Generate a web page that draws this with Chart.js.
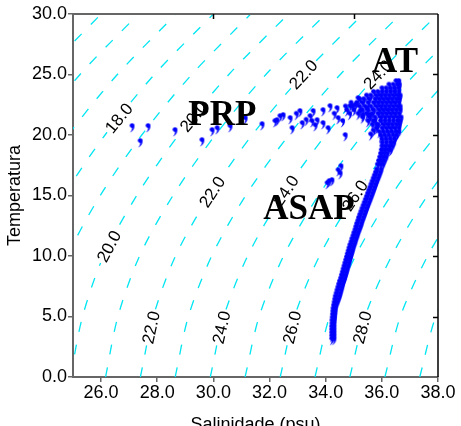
<!DOCTYPE html>
<html lang="pt">
<head>
<meta charset="UTF-8">
<title>Diagrama T-S</title>
<script src="https://cdn.jsdelivr.net/npm/chart.js"></script>
<style>
  html, body { margin: 0; padding: 0; background: #fff; }
</style>
</head>
<body>
<canvas id="tsChart" width="461" height="426"></canvas>
<script>
// eixos
const salTicks = [26, 28, 30, 32, 34, 36, 38];
const tempTicks = [0, 5, 10, 15, 20, 25, 30];
const topTickSal = [30, 35];
const rightTickTemp = [5, 10, 15, 20, 25];

// isopicnais sigma-t, salinidade lida em T = 0, 5, 10 ... 30
const sigmaLevels = [15, 16, 17, 18, 19, 20, 21, 22, 23, 24, 25, 26, 27, 28, 29, 30];
const sigmaTemps = [0, 5, 10, 15, 20, 25, 30];
const sigmaSal = [
  [18.69, 19.05, 19.68, 20.79, 22.21, 23.93, 26.00],
  [19.94, 20.31, 20.96, 22.09, 23.52, 25.25, 27.33],
  [21.18, 21.57, 22.24, 23.38, 24.83, 26.58, 28.67],
  [22.43, 22.82, 23.53, 24.68, 26.14, 27.90, 30.00],
  [23.67, 24.08, 24.81, 25.97, 27.45, 29.23, 31.33],
  [24.91, 25.34, 26.09, 27.27, 28.76, 30.55, 32.67],
  [26.16, 26.60, 27.37, 28.56, 30.07, 31.87, 34.00],
  [27.40, 27.86, 28.65, 29.86, 31.38, 33.20, 35.33],
  [28.64, 29.11, 29.94, 31.15, 32.69, 34.52, 36.67],
  [29.89, 30.37, 31.22, 32.45, 34.00, 35.85, 38.00],
  [31.13, 31.63, 32.50, 33.74, 35.31, 37.17, 39.33],
  [32.38, 32.89, 33.78, 35.04, 36.63, 38.50],
  [33.62, 34.14, 35.06, 36.33, 37.94, 39.82],
  [34.86, 35.40, 36.35, 37.63, 39.25],
  [36.11, 36.66, 37.63, 38.92],
  [37.35, 37.92, 38.91]
];
// rotulos das isopicnais
const labelLevel = [18, 20, 20, 22, 22, 22, 24, 24, 24, 26, 26, 28];
const labelTemp = [21.4, 21.5, 10.8, 25.0, 15.3, 4.1, 25.0, 15.4, 4.1, 15.0, 4.1, 4.1];

// massas d'agua
const tagNames = ['PRP', 'AT', 'ASAP'];
const tagSal = [30.32, 36.47, 33.40];
const tagTemp = [20.83, 25.21, 13.06];

// tronco principal (duas colunas por linha)
const trunkTemp = [3.00, 3.25, 3.50, 3.75, 4.00, 4.25, 4.50, 4.75, 5.00, 5.25, 5.50, 5.75, 6.00, 6.25, 6.50,
  6.75, 7.00, 7.25, 7.50, 7.75, 8.00, 8.25, 8.50, 8.75, 9.00, 9.25, 9.50, 9.75, 10.00, 10.25,
  10.50, 10.75, 11.00, 11.25, 11.50, 11.75, 12.00, 12.25, 12.50, 12.75, 13.00, 13.25, 13.50, 13.75, 14.00,
  14.25, 14.50, 14.75, 15.00, 15.25, 15.50, 15.75, 16.00, 16.25, 16.50, 16.75, 17.00];
const trunkSalA = [34.21, 34.21, 34.21, 34.21, 34.21, 34.22, 34.22, 34.23, 34.24, 34.25, 34.26, 34.28, 34.30, 34.32, 34.34,
  34.37, 34.40, 34.43, 34.46, 34.49, 34.53, 34.56, 34.59, 34.62, 34.65, 34.68, 34.71, 34.74, 34.77, 34.80,
  34.83, 34.86, 34.90, 34.93, 34.97, 35.00, 35.04, 35.07, 35.10, 35.14, 35.17, 35.21, 35.25, 35.29, 35.33,
  35.37, 35.41, 35.45, 35.49, 35.53, 35.57, 35.61, 35.65, 35.69, 35.73, 35.77, 35.81];
const trunkSalB = [34.29, 34.29, 34.29, 34.29, 34.29, 34.29, 34.30, 34.31, 34.32, 34.33, 34.34, 34.36, 34.40, 34.44, 34.48,
  34.51, 34.54, 34.57, 34.60, 34.63, 34.67, 34.70, 34.73, 34.76, 34.79, 34.82, 34.85, 34.88, 34.91, 34.94,
  34.97, 35.00, 35.04, 35.07, 35.11, 35.14, 35.18, 35.22, 35.26, 35.29, 35.33, 35.37, 35.41, 35.45, 35.49,
  35.53, 35.57, 35.61, 35.65, 35.69, 35.73, 35.77, 35.81, 35.85, 35.89, 35.93, 35.97];

// nucleo AT (linhas de temperatura)
const atTemp = [24.3, 24.0, 23.7, 23.4, 23.1, 22.8, 22.5, 22.2, 21.9, 21.6, 21.3, 21.0, 20.7, 20.4,
  20.1, 19.8, 19.5, 19.2, 18.9, 18.6, 18.3, 18.0, 17.7, 17.4];
const atSal = [
  [36.5, 36.6],
  [36.25, 36.4, 36.55, 36.62],
  [36.0, 36.15, 36.3, 36.45, 36.6],
  [35.7, 35.85, 36.0, 36.15, 36.3, 36.45, 36.6],
  [35.45, 35.6, 35.8, 35.95, 36.1, 36.25, 36.4, 36.55, 36.65],
  [35.2, 35.35, 35.55, 35.75, 35.9, 36.05, 36.2, 36.35, 36.5, 36.62],
  [34.9, 35.1, 35.3, 35.5, 35.7, 35.85, 36.0, 36.15, 36.3, 36.45, 36.6],
  [34.7, 34.95, 35.2, 35.4, 35.6, 35.8, 35.95, 36.1, 36.25, 36.4, 36.55, 36.65],
  [34.75, 35.0, 35.3, 35.5, 35.7, 35.9, 36.05, 36.2, 36.35, 36.5, 36.65],
  [34.85, 35.15, 35.45, 35.65, 35.85, 36.0, 36.15, 36.3, 36.45, 36.6],
  [35.3, 35.55, 35.75, 35.95, 36.1, 36.25, 36.4, 36.55, 36.68],
  [35.5, 35.75, 35.95, 36.1, 36.25, 36.4, 36.55, 36.65],
  [35.65, 35.85, 36.05, 36.2, 36.35, 36.5, 36.62],
  [35.8, 36.0, 36.15, 36.3, 36.45, 36.6],
  [35.9, 36.05, 36.2, 36.35, 36.5, 36.6],
  [35.95, 36.1, 36.25, 36.4, 36.52],
  [36.0, 36.15, 36.3, 36.45],
  [36.0, 36.15, 36.3, 36.42],
  [36.0, 36.12, 36.25, 36.36],
  [35.98, 36.1, 36.22, 36.3],
  [35.95, 36.07, 36.18],
  [35.92, 36.03, 36.14],
  [35.88, 35.98, 36.08],
  [35.84, 35.94, 36.03]
];

// PRP espalhado
const prpSal = [27.10, 27.67, 27.39, 28.63, 29.59, 29.95, 30.13, 30.59, 31.13, 31.73, 32.19, 32.26, 32.37, 32.48,
  32.73, 32.80, 32.95, 33.08, 33.16, 33.30, 33.44, 33.51, 33.55, 33.62, 33.69, 33.90, 33.90, 34.08, 34.15, 34.30,
  34.40, 34.44, 34.60, 34.69, 34.86, 35.04, 35.15, 35.22, 35.33, 35.47, 35.58, 35.60, 35.68, 35.70, 35.83];
const prpTemp = [20.58, 20.58, 19.34, 20.25, 19.42, 20.25, 20.41, 20.58, 21.24, 20.74, 20.99, 21.07, 21.40, 21.49,
  21.24, 20.41, 21.60, 21.82, 20.83, 21.10, 21.40, 20.99, 21.82, 20.66, 21.07, 21.90, 20.83, 20.41, 22.23, 21.60,
  22.07, 21.24, 21.00, 19.83, 22.23, 22.31, 22.89, 21.82, 21.49, 22.07, 21.49, 19.90, 20.99, 20.20, 20.66];

// pequeno grupo junto de ASAP
const asapSal = [34.05, 34.12, 34.22, 34.44, 34.51, 34.54];
const asapTemp = [15.87, 16.03, 16.12, 16.94, 16.69, 17.27];

// marcador em forma de virgula
const comma = document.createElement('canvas');
comma.width = 9;
comma.height = 12;
const cc = comma.getContext('2d');
cc.fillStyle = '#0000ff';
cc.beginPath();
cc.arc(4.6, 3.6, 2.4, 0, Math.PI * 2);
cc.fill();
cc.beginPath();
cc.moveTo(6.9, 3.8);
cc.quadraticCurveTo(7.1, 8.2, 2.6, 10.8);
cc.quadraticCurveTo(4.9, 7.8, 4.6, 5.6);
cc.closePath();
cc.fill();

const obs = [];
trunkTemp.forEach((t, i) => {
  obs.push({x: trunkSalA[i], y: t});
  obs.push({x: trunkSalB[i], y: t});
});
atTemp.forEach((t, i) => atSal[i].forEach(s => obs.push({x: s, y: t})));
prpSal.forEach((s, i) => obs.push({x: s, y: prpTemp[i]}));
asapSal.forEach((s, i) => obs.push({x: s, y: asapTemp[i]}));

const datasets = [{
  data: obs,
  pointStyle: comma,
  pointRadius: 4,
  showLine: false
}];
sigmaSal.forEach(row => {
  datasets.push({
    data: row.map((s, j) => ({x: s, y: sigmaTemps[j]})),
    showLine: true,
    pointRadius: 0,
    borderColor: '#00e6f2',
    borderWidth: 1.3,
    borderDash: [10, 13],
    tension: 0.3
  });
});

function salOnSigma(i, t) {
  const row = sigmaSal[i];
  const j = Math.min(Math.floor(t / 5), row.length - 2);
  const f = (t - sigmaTemps[j]) / (sigmaTemps[j + 1] - sigmaTemps[j]);
  return row[j] + f * (row[j + 1] - row[j]);
}

const axisFont = {family: '"Liberation Sans", Arial, sans-serif', size: 18};

const sigmaLabels = {
  id: 'sigmaLabels',
  afterDatasetDraw(chart, args) {
    if (args.index !== 1) return;
    const {ctx, chartArea, scales: {x, y}} = chart;
    ctx.save();
    ctx.beginPath();
    ctx.rect(chartArea.left, chartArea.top, chartArea.width, chartArea.height);
    ctx.clip();
    ctx.font = '17px "Liberation Sans", Arial, sans-serif';
    ctx.textAlign = 'center';
    ctx.textBaseline = 'middle';
    labelLevel.forEach((lv, k) => {
      const i = sigmaLevels.indexOf(lv);
      const t = labelTemp[k];
      const px = x.getPixelForValue(salOnSigma(i, t));
      const py = y.getPixelForValue(t);
      const ang = Math.atan2(
        y.getPixelForValue(t + 1) - y.getPixelForValue(t - 1),
        x.getPixelForValue(salOnSigma(i, t + 1)) - x.getPixelForValue(salOnSigma(i, t - 1)));
      const txt = lv.toFixed(1);
      const w = ctx.measureText(txt).width;
      ctx.save();
      ctx.translate(px, py);
      ctx.rotate(ang);
      ctx.fillStyle = '#fff';
      ctx.fillRect(-w / 2 - 2, -8, w + 4, 16);
      ctx.fillStyle = '#000';
      ctx.fillText(txt, 0, 1);
      ctx.restore();
    });
    ctx.restore();
  }
};

const waterTags = {
  id: 'waterTags',
  afterDatasetsDraw(chart) {
    const {ctx, scales: {x, y}} = chart;
    ctx.save();
    ctx.font = 'bold 35px "Liberation Serif", "Times New Roman", serif';
    ctx.fillStyle = '#000';
    ctx.textAlign = 'center';
    ctx.textBaseline = 'alphabetic';
    tagNames.forEach((n, i) => ctx.fillText(n, x.getPixelForValue(tagSal[i]), y.getPixelForValue(tagTemp[i])));
    ctx.restore();
  }
};

// moldura superior/direita com marcas para dentro
const frame = {
  id: 'frame',
  afterDraw(chart) {
    const {ctx, chartArea: a, scales: {x, y}} = chart;
    ctx.save();
    ctx.strokeStyle = '#666';
    ctx.lineWidth = 2;
    ctx.beginPath();
    ctx.moveTo(a.left - 1, a.top);
    ctx.lineTo(a.right, a.top);
    ctx.stroke();
    ctx.strokeStyle = '#000';
    ctx.lineWidth = 1.5;
    ctx.beginPath();
    ctx.moveTo(a.right, a.top);
    ctx.lineTo(a.right, a.bottom);
    rightTickTemp.forEach(t => {
      const py = Math.round(y.getPixelForValue(t)) + 0.5;
      ctx.moveTo(a.right, py);
      ctx.lineTo(a.right - 5, py);
    });
    topTickSal.forEach(s => {
      const px = Math.round(x.getPixelForValue(s)) + 0.5;
      ctx.moveTo(px, a.top);
      ctx.lineTo(px, a.top + 5);
    });
    ctx.stroke();
    ctx.restore();
  }
};

new Chart(document.getElementById('tsChart'), {
  type: 'scatter',
  data: {datasets: datasets},
  options: {
    responsive: false,
    animation: false,
    layout: {padding: {top: 14, right: 23, left: 0, bottom: 0}},
    plugins: {legend: {display: false}, tooltip: {enabled: false}},
    scales: {
      x: {
        type: 'linear',
        min: 25,
        max: 38,
        afterBuildTicks: s => { s.ticks = salTicks.map(v => ({value: v})); },
        afterFit: s => { s.height = 49; },
        ticks: {callback: v => v.toFixed(1), font: axisFont, color: '#000', padding: 0, maxRotation: 0, autoSkip: false},
        grid: {drawOnChartArea: false, drawTicks: true, tickLength: 5, color: '#666', lineWidth: 1.5},
        border: {color: '#666', width: 2},
        title: {display: true, text: 'Salinidade (psu)', font: axisFont, color: '#000', padding: {top: 0, bottom: -10}}
      },
      y: {
        type: 'linear',
        min: 0,
        max: 30,
        afterBuildTicks: s => { s.ticks = tempTicks.map(v => ({value: v})); },
        afterFit: s => { s.width = 73; },
        ticks: {callback: v => v.toFixed(1), font: axisFont, color: '#000', padding: 1, autoSkip: false},
        grid: {drawOnChartArea: false, drawTicks: true, tickLength: 5, color: '#666', lineWidth: 1.5},
        border: {color: '#666', width: 2},
        title: {display: true, text: 'Temperatura', font: axisFont, color: '#000', padding: {top: 4, bottom: 0}}
      }
    }
  },
  plugins: [sigmaLabels, waterTags, frame]
});
</script>
</body>
</html>
